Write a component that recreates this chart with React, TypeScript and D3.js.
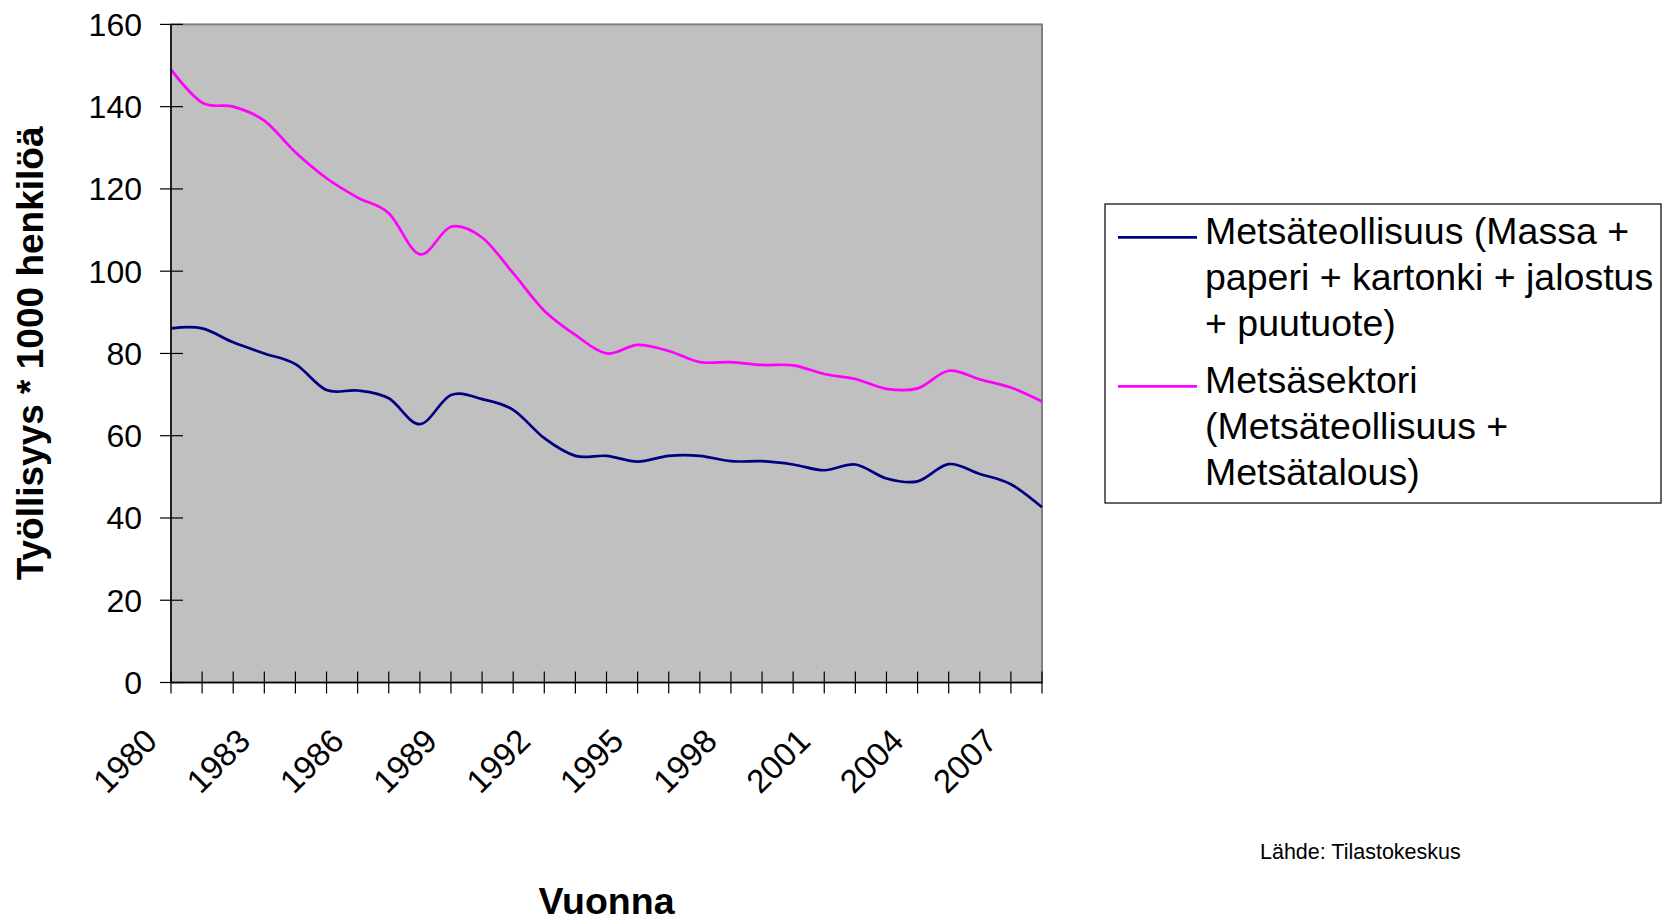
import * as d3 from "d3";

const years = [
  1980, 1981, 1982, 1983, 1984, 1985, 1986, 1987, 1988, 1989,
  1990, 1991, 1992, 1993, 1994, 1995, 1996, 1997, 1998, 1999,
  2000, 2001, 2002, 2003, 2004, 2005, 2006, 2007, 2008
];

// Metsäteollisuus (Massa + paperi + kartonki + jalostus + puutuote)
const metsateollisuus = [
  86.1, 86.1, 82.7, 80.0, 77.4, 71.1, 71.0, 69.1, 62.8, 69.9,
  68.9, 66.3, 59.4, 55.1, 55.1, 53.7, 55.1, 55.1, 53.8, 53.8,
  53.0, 51.6, 53.0, 49.6, 48.9, 53.1, 50.7, 48.2, 42.6
];

// Metsäsektori (Metsäteollisuus + Metsätalous)
const metsasektori = [
  149.0, 141.0, 140.0, 136.6, 128.9, 122.6, 117.9, 114.1, 104.1, 110.8,
  108.2, 99.5, 90.4, 84.5, 80.0, 82.1, 80.6, 77.9, 77.9, 77.2,
  77.1, 75.0, 73.8, 71.4, 71.5, 75.8, 73.7, 71.7, 68.3
];

const yTicks = [0, 20, 40, 60, 80, 100, 120, 140, 160];
const xLabelYears = [1980, 1983, 1986, 1989, 1992, 1995, 1998, 2001, 2004, 2007];

const legendItems = [
  { color: "#000080", lines: ["Metsäteollisuus (Massa +", "paperi + kartonki + jalostus", "+ puutuote)"] },
  { color: "#FF00FF", lines: ["Metsäsektori", "(Metsäteollisuus +", "Metsätalous)"] }
];

const font = "'Liberation Sans', Arial, Helvetica, sans-serif";

export default function App() {
  const width = 1666;
  const height = 922;
  const left = 171, right = 1042, top = 24.4, bottom = 682.5;

  const x = d3.scaleLinear().domain([years[0], years[years.length - 1]]).range([left, right]);
  const y = d3.scaleLinear().domain([0, 160]).range([bottom, top]);

  // Excel-like smoothed line
  const line = d3.line<number>()
    .x((d, i) => x(years[i]))
    .y(d => y(d))
    .curve(d3.curveCardinal.tension(0));

  const series = [
    { values: metsateollisuus, color: legendItems[0].color },
    { values: metsasektori, color: legendItems[1].color }
  ];

  return (
    <svg width={width} height={height} style={{ position: "absolute", left: 0, top: 0, fontFamily: font }}>
      <style>{`body{margin:0}`}</style>
      <rect width={width} height={height} fill="#fff" />

      {/* plot area */}
      <rect x={left} y={top} width={right - left} height={bottom - top} fill="#C0C0C0" stroke="#808080" strokeWidth={2} />

      {/* lines */}
      {series.map((s, k) => (
        <path key={k} d={line(s.values) || ""} fill="none" stroke={s.color} strokeWidth={2.7} strokeLinejoin="round" />
      ))}

      {/* y axis */}
      <line x1={left} x2={left} y1={top} y2={bottom} stroke="#000" strokeWidth={1.5} />
      {yTicks.map(v => (
        <g key={v}>
          <line x1={left - 11} x2={left + 12} y1={y(v)} y2={y(v)} stroke="#000" strokeWidth={1.2} />
          <text x={142} y={y(v)} dy="0.36em" textAnchor="end" fontSize={32} fill="#000">{v}</text>
        </g>
      ))}

      {/* x axis */}
      <line x1={left} x2={right} y1={bottom} y2={bottom} stroke="#000" strokeWidth={1.5} />
      {years.map(yr => (
        <line key={yr} x1={x(yr)} x2={x(yr)} y1={bottom - 11} y2={bottom + 11} stroke="#000" strokeWidth={1.2} />
      ))}
      {xLabelYears.map(yr => (
        <text key={yr} transform={`translate(${x(yr) - 12},743) rotate(-45)`} textAnchor="end" fontSize={33} fill="#000">{yr}</text>
      ))}

      {/* axis titles */}
      <text transform={`translate(43,${(top + bottom) / 2}) rotate(-90)`} textAnchor="middle" fontSize={37} fontWeight="bold">
        Työllisyys * 1000 henkilöä
      </text>
      <text x={(left + right) / 2} y={914} textAnchor="middle" fontSize={37.5} fontWeight="bold">Vuonna</text>

      {/* legend */}
      <rect x={1105} y={204} width={556} height={299} fill="#fff" stroke="#000" strokeWidth={1.2} />
      {legendItems.map((item, k) => {
        const base = k === 0 ? 244.3 : 393.3;
        return (
          <g key={k}>
            <line x1={1118} x2={1197} y1={base - 7} y2={base - 7} stroke={item.color} strokeWidth={2.7} />
            {item.lines.map((t, j) => (
              <text key={j} x={1205} y={base + j * 45.7} fontSize={37.5} fill="#000">{t}</text>
            ))}
          </g>
        );
      })}

      <text x={1260} y={859} fontSize={21.5} fill="#000">Lähde: Tilastokeskus</text>
    </svg>
  );
}
